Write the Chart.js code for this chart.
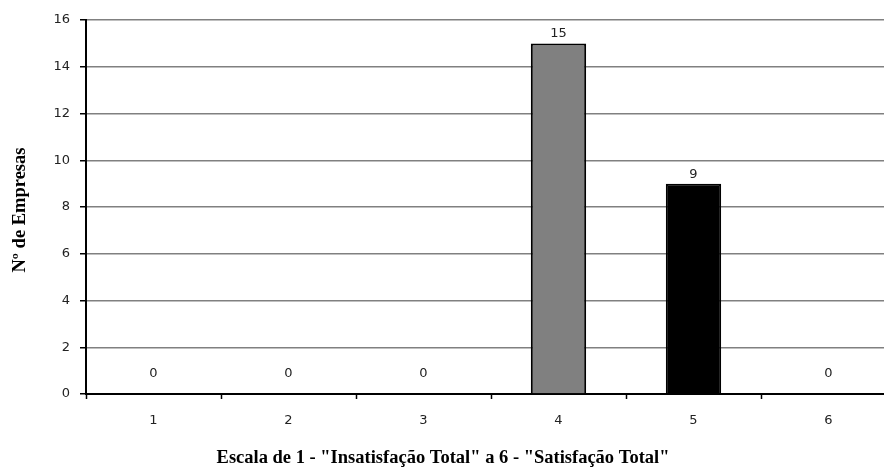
<!DOCTYPE html>
<html>
<head>
<meta charset="utf-8">
<script src="https://cdn.jsdelivr.net/npm/chart.js@4"></script>
<style>
  html, body { margin: 0; padding: 0; background: #fff; overflow: hidden; }
  #wrap { width: 884px; height: 467px; overflow: hidden; }
</style>
</head>
<body>
<div id="wrap"><canvas id="chart" width="910" height="467"></canvas></div>
<script>
var categories = ['1', '2', '3', '4', '5', '6'];
var empresas = [0, 0, 0, 15, 9, 0];
var barColors = ['#808080', '#808080', '#808080', '#808080', '#000000', '#808080'];
var yTicks = [0, 2, 4, 6, 8, 10, 12, 14, 16];
var xTitle = 'Escala de 1 - "Insatisfação Total" a 6 - "Satisfação Total"';
var yTitle = 'Nº de Empresas';

var tickFont = { family: 'DejaVu Sans', size: 13 };

// value labels above bars + the two axis titles
var extras = {
    id: 'extras',
    afterDatasetsDraw: function (chart) {
        var ctx = chart.ctx;
        var meta = chart.getDatasetMeta(0);
        ctx.save();
        ctx.font = '13px "DejaVu Sans"';
        ctx.fillStyle = '#222';
        ctx.textAlign = 'center';
        ctx.textBaseline = 'alphabetic';
        meta.data.forEach(function (bar, i) {
            var v = chart.data.datasets[0].data[i];
            var y = v === 0 ? bar.y - 17 : bar.y - 6;
            ctx.fillText(String(v), bar.x, y);
        });
        ctx.restore();
    },
    afterDraw: function (chart) {
        var ctx = chart.ctx;
        var area = chart.chartArea;
        ctx.save();
        ctx.font = 'bold 18.5px "Liberation Serif"';
        ctx.fillStyle = '#000';
        ctx.textAlign = 'center';
        ctx.textBaseline = 'alphabetic';
        ctx.fillText(xTitle, 443, 463);
        ctx.translate(25, (area.top + area.bottom) / 2 + 3);
        ctx.rotate(-Math.PI / 2);
        ctx.fillText(yTitle, 0, 0);
        ctx.restore();
    }
};

var ctx = document.getElementById('chart').getContext('2d');
var chart = new Chart(ctx, {
    type: 'bar',
    data: {
        labels: categories,
        datasets: [{
            label: yTitle,
            data: empresas,
            backgroundColor: barColors,
            borderColor: '#000',
            borderWidth: 2,
            barPercentage: 0.41,
            categoryPercentage: 1
        }]
    },
    options: {
        responsive: false,
        animation: false,
        layout: { padding: { top: 20, right: 14, left: 0, bottom: 0 } },
        plugins: {
            legend: { display: false },
            tooltip: { enabled: false }
        },
        scales: {
            x: {
                grid: {
                    offset: true,
                    drawOnChartArea: false,
                    drawTicks: true,
                    tickLength: 5,
                    tickColor: '#000',
                    tickWidth: 1.5
                },
                border: { color: '#000', width: 2 },
                ticks: { font: tickFont, color: '#222', padding: 14 },
                afterFit: function (scale) { scale.height = 73; }
            },
            y: {
                min: 0,
                max: 16,
                afterBuildTicks: function (scale) {
                    scale.ticks = yTicks.map(function (v) { return { value: v }; });
                },
                grid: {
                    color: '#808080',
                    lineWidth: 1.5,
                    tickLength: 6,
                    tickColor: '#000'
                },
                border: { color: '#000', width: 2 },
                ticks: { font: tickFont, color: '#222', padding: 10 },
                afterFit: function (scale) { scale.width = 86; }
            }
        }
    },
    plugins: [extras]
});
</script>
</body>
</html>
